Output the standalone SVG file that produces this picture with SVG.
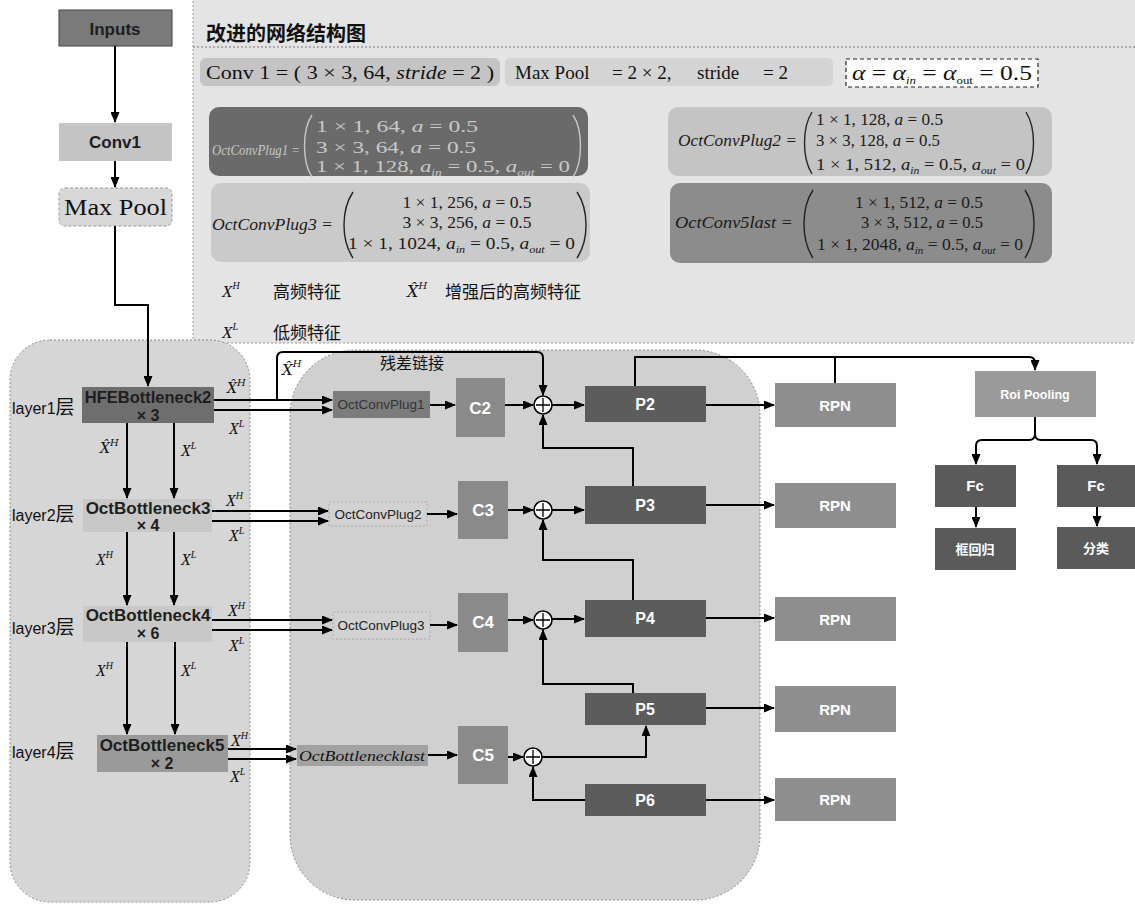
<svg xmlns="http://www.w3.org/2000/svg" width="1135" height="906" viewBox="0 0 1135 906">
<defs>
<marker id="ah" markerWidth="11" markerHeight="9" refX="10" refY="4.5" orient="auto" markerUnits="userSpaceOnUse"><path d="M0,0 L11,4.5 L0,9 z" fill="#000"/></marker>
</defs>
<style>
.sans{font-family:"Liberation Sans",Arial,"Noto Sans CJK SC",sans-serif}
.cjk{font-family:"Noto Sans CJK SC","Liberation Sans",sans-serif}
.serif{font-family:"Liberation Serif","DejaVu Serif",serif}
.math{font-family:"Liberation Serif","DejaVu Serif",serif;font-style:italic}
.hat{font-family:"DejaVu Serif",serif;font-style:italic}
.ln{fill:none;stroke:#000;stroke-width:2}
.arr{fill:none;stroke:#000;stroke-width:2;marker-end:url(#ah)}
.wt{fill:#fff;font-weight:bold;text-anchor:middle;font-family:"Liberation Sans",Arial,"Noto Sans CJK SC",sans-serif}
.bk{fill:#1e1e1e;font-weight:bold;text-anchor:middle;font-family:"Liberation Sans",Arial,sans-serif}
.par{fill:none;stroke:#222;stroke-width:1.4}
.parl{fill:none;stroke:#c8c8c8;stroke-width:1.4}
.sup{font-size:10px}
.sub{font-size:10px}
</style>
<rect x="0" y="0" width="1135" height="906" fill="#fff"/>

<!-- Legend panel -->
<g id="legend">
<rect x="193" y="-3" width="945" height="346" fill="#e4e4e4" stroke="#999" stroke-width="1" stroke-dasharray="2,2"/>
<text x="206" y="41" class="cjk" font-size="20" font-weight="bold" fill="#111">改进的网络结构图</text>
<line x1="193" y1="47" x2="1135" y2="47" stroke="#777" stroke-width="1" stroke-dasharray="2,2"/>
<rect x="200" y="58" width="300" height="28" rx="6" fill="#c4c4c4"/>
<text x="206" y="79" class="serif" font-size="19" fill="#111" textLength="288" lengthAdjust="spacingAndGlyphs">Conv 1 = ( 3 × 3, 64, <tspan font-style="italic">stride</tspan> = 2 )</text>
<rect x="505" y="58" width="328" height="28" rx="5" fill="#d4d4d4"/>
<text y="79" class="serif" font-size="19" fill="#111"><tspan x="515">Max Pool</tspan><tspan x="612">= 2 × 2,</tspan><tspan x="697">stride</tspan><tspan x="763">= 2</tspan></text>
<rect x="846" y="59" width="192" height="28" fill="#fff" stroke="#222" stroke-width="1.2" stroke-dasharray="4,3"/>
<text x="852" y="80" class="serif" font-size="20" fill="#111" textLength="180" lengthAdjust="spacingAndGlyphs"><tspan font-style="italic">α</tspan> = <tspan font-style="italic">α</tspan><tspan class="sub" font-style="italic" dy="4">in</tspan><tspan dy="-4"> = </tspan><tspan font-style="italic">α</tspan><tspan class="sub" dy="4">out</tspan><tspan dy="-4"> = 0.5</tspan></text>

<rect x="209" y="107" width="379" height="69" rx="10" fill="#6a6a6a"/>
<text x="212" y="155" class="math" font-size="15" fill="#c8c8c8" textLength="88" lengthAdjust="spacingAndGlyphs">OctConvPlug1 =</text>
<path class="parl" d="M312,115 C302,130 302,162 312,177"/>
<path class="parl" d="M573,115 C583,130 583,162 573,177"/>
<text x="316" y="132" class="serif" font-size="17" fill="#c8c8c8" textLength="162" lengthAdjust="spacingAndGlyphs">1 × 1, 64, <tspan font-style="italic">a</tspan> = 0.5</text>
<text x="316" y="153" class="serif" font-size="17" fill="#c8c8c8" textLength="160" lengthAdjust="spacingAndGlyphs">3 × 3, 64, <tspan font-style="italic">a</tspan> = 0.5</text>
<text x="316" y="172" class="serif" font-size="17" fill="#c8c8c8" textLength="254" lengthAdjust="spacingAndGlyphs">1 × 1, 128, <tspan font-style="italic">a</tspan><tspan class="sub" font-style="italic" dy="4">in</tspan><tspan dy="-4"> = 0.5, </tspan><tspan font-style="italic">a</tspan><tspan class="sub" font-style="italic" dy="4">out</tspan><tspan dy="-4"> = 0</tspan></text>

<rect x="668" y="107" width="384" height="69" rx="10" fill="#c4c4c4"/>
<text x="678" y="146" class="math" font-size="16" fill="#1a1a1a" textLength="119" lengthAdjust="spacingAndGlyphs">OctConvPlug2 =</text>
<path class="par" d="M812,112 C802,128 802,158 812,174"/>
<path class="par" d="M1026,112 C1036,128 1036,158 1026,174"/>
<text x="816" y="125" class="serif" font-size="16" fill="#1a1a1a" textLength="127" lengthAdjust="spacingAndGlyphs">1 × 1, 128, <tspan font-style="italic">a</tspan> = 0.5</text>
<text x="816" y="146" class="serif" font-size="16" fill="#1a1a1a" textLength="124" lengthAdjust="spacingAndGlyphs">3 × 3, 128, <tspan font-style="italic">a</tspan> = 0.5</text>
<text x="816" y="170" class="serif" font-size="16" fill="#1a1a1a" textLength="209" lengthAdjust="spacingAndGlyphs">1 × 1, 512, <tspan font-style="italic">a</tspan><tspan class="sub" font-style="italic" dy="4">in</tspan><tspan dy="-4"> = 0.5, </tspan><tspan font-style="italic">a</tspan><tspan class="sub" font-style="italic" dy="4">out</tspan><tspan dy="-4"> = 0</tspan></text>

<rect x="211" y="183" width="379" height="79" rx="10" fill="#cacaca"/>
<text x="212" y="230" class="math" font-size="16" fill="#1a1a1a" textLength="121" lengthAdjust="spacingAndGlyphs">OctConvPlug3 =</text>
<path class="par" d="M353,192 C341,210 341,240 353,258"/>
<path class="par" d="M577,192 C589,210 589,240 577,258"/>
<text x="467" y="208" class="serif" font-size="16" fill="#1a1a1a" text-anchor="middle" textLength="129" lengthAdjust="spacingAndGlyphs">1 × 1, 256, <tspan font-style="italic">a</tspan> = 0.5</text>
<text x="467" y="228" class="serif" font-size="16" fill="#1a1a1a" text-anchor="middle" textLength="129" lengthAdjust="spacingAndGlyphs">3 × 3, 256, <tspan font-style="italic">a</tspan> = 0.5</text>
<text x="348" y="249" class="serif" font-size="16" fill="#1a1a1a" textLength="227" lengthAdjust="spacingAndGlyphs">1 × 1, 1024, <tspan font-style="italic">a</tspan><tspan class="sub" font-style="italic" dy="4">in</tspan><tspan dy="-4"> = 0.5, </tspan><tspan font-style="italic">a</tspan><tspan class="sub" font-style="italic" dy="4">out</tspan><tspan dy="-4"> = 0</tspan></text>

<rect x="670" y="183" width="382" height="80" rx="10" fill="#8c8c8c"/>
<text x="675" y="228" class="math" font-size="16" fill="#1a1a1a" textLength="118" lengthAdjust="spacingAndGlyphs">OctConv5last =</text>
<path class="par" d="M813,190 C801,208 801,240 813,258"/>
<path class="par" d="M1025,190 C1037,208 1037,240 1025,258"/>
<text x="919" y="208" class="serif" font-size="16" fill="#1a1a1a" text-anchor="middle" textLength="128" lengthAdjust="spacingAndGlyphs">1 × 1, 512, <tspan font-style="italic">a</tspan> = 0.5</text>
<text x="922" y="228" class="serif" font-size="16" fill="#1a1a1a" text-anchor="middle" textLength="122" lengthAdjust="spacingAndGlyphs">3 × 3, 512, <tspan font-style="italic">a</tspan> = 0.5</text>
<text x="817" y="250" class="serif" font-size="16" fill="#1a1a1a" textLength="206" lengthAdjust="spacingAndGlyphs">1 × 1, 2048, <tspan font-style="italic">a</tspan><tspan class="sub" font-style="italic" dy="4">in</tspan><tspan dy="-4"> = 0.5, </tspan><tspan font-style="italic">a</tspan><tspan class="sub" font-style="italic" dy="4">out</tspan><tspan dy="-4"> = 0</tspan></text>

<text x="222" y="297" class="math" font-size="17" fill="#111">X<tspan class="sup" dy="-8">H</tspan></text>
<text x="273" y="298" class="cjk" font-size="17" fill="#111">高频特征</text>
<text x="407" y="297" class="hat" font-size="16" fill="#111">X̂<tspan class="sup" dy="-8">H</tspan></text>
<text x="445" y="298" class="cjk" font-size="17" fill="#111">增强后的高频特征</text>
<text x="222" y="338" class="math" font-size="17" fill="#111">X<tspan class="sup" dy="-8">L</tspan></text>
<text x="273" y="339" class="cjk" font-size="17" fill="#111">低频特征</text>
</g>

<!-- Panels -->
<g id="layers-panel">
<rect x="10" y="340" width="240" height="562" rx="40" fill="#d6d6d6" stroke="#888" stroke-width="1" stroke-dasharray="2,2"/>
<text x="12" y="414" class="sans" font-size="16" fill="#111">layer1<tspan font-size="19">层</tspan></text>
<text x="12" y="521" class="sans" font-size="16" fill="#111">layer2<tspan font-size="19">层</tspan></text>
<text x="12" y="634" class="sans" font-size="16" fill="#111">layer3<tspan font-size="19">层</tspan></text>
<text x="12" y="758" class="sans" font-size="16" fill="#111">layer4<tspan font-size="19">层</tspan></text>
</g>
<g id="fpn-panel">
<rect x="290" y="350" width="470" height="550" rx="65" fill="#d0d0d0" stroke="#888" stroke-width="1" stroke-dasharray="2,2"/>
<text x="380" y="369" class="cjk" font-size="16" fill="#111">残差链接</text>
<text x="282" y="375" class="hat" font-size="15" fill="#111">X̂<tspan class="sup" dy="-8">H</tspan></text>
</g>

<!-- Stem nodes -->
<g id="inputs"><rect x="59" y="10" width="113" height="36" fill="#7a7a7a" stroke="#444" stroke-width="1"/><text x="115" y="35" class="bk" font-size="17">Inputs</text></g>
<g id="conv1"><rect x="59" y="123" width="113" height="38" fill="#c4c4c4"/><text x="115" y="148" class="bk" font-size="17">Conv1</text></g>
<g id="maxpool"><rect x="59" y="188" width="113" height="38" rx="6" fill="#d8d8d8" stroke="#999" stroke-width="1" stroke-dasharray="3,2"/><text x="64" y="215" class="serif" font-size="23" fill="#111" textLength="103" lengthAdjust="spacingAndGlyphs">Max Pool</text></g>

<!-- Backbone -->
<g id="hfe2"><rect x="82" y="387" width="132" height="36" fill="#6e6e6e"/><text x="148" y="403" class="bk" font-size="16.5">HFEBottleneck2</text><text x="148" y="421" class="bk" font-size="16">× 3</text></g>
<g id="oct3"><rect x="83" y="499" width="129" height="33" fill="#c8c8c8"/><text x="148" y="514" class="bk" font-size="17">OctBottleneck3</text><text x="148" y="531" class="bk" font-size="16">× 4</text></g>
<g id="oct4"><rect x="83" y="606" width="129" height="36" fill="#c8c8c8"/><text x="148" y="621" class="bk" font-size="17">OctBottleneck4</text><text x="148" y="639" class="bk" font-size="16">× 6</text></g>
<g id="oct5"><rect x="97" y="735" width="131" height="37" fill="#9a9a9a"/><text x="162" y="751" class="bk" font-size="17">OctBottleneck5</text><text x="162" y="769" class="bk" font-size="16">× 2</text></g>

<!-- Plug nodes -->
<g id="plug1"><rect x="333" y="391" width="97" height="27" fill="#7c7c7c"/><text x="381" y="409" class="sans" font-size="13.5" fill="#333" text-anchor="middle">OctConvPlug1</text></g>
<g id="plug2"><rect x="329" y="502" width="98" height="24" fill="#d2d2d2" stroke="#aaa" stroke-width="1" stroke-dasharray="2,2"/><text x="378" y="519" class="sans" font-size="13.5" fill="#222" text-anchor="middle">OctConvPlug2</text></g>
<g id="plug3"><rect x="333" y="612" width="97" height="27" fill="#d2d2d2" stroke="#aaa" stroke-width="1" stroke-dasharray="2,2"/><text x="381" y="630" class="sans" font-size="13.5" fill="#222" text-anchor="middle">OctConvPlug3</text></g>
<g id="octlast"><rect x="297" y="745" width="131" height="21" fill="#a2a2a2"/><text x="362" y="761" class="math" font-size="15" fill="#111" text-anchor="middle" textLength="126" lengthAdjust="spacingAndGlyphs">OctBottlenecklast</text></g>

<!-- C nodes -->
<g id="c2"><rect x="456" y="378" width="49" height="59" fill="#8a8a8a"/><text x="480" y="414" class="wt" font-size="17">C2</text></g>
<g id="c3"><rect x="458" y="481" width="50" height="58" fill="#8a8a8a"/><text x="483" y="516" class="wt" font-size="17">C3</text></g>
<g id="c4"><rect x="458" y="593" width="50" height="59" fill="#8a8a8a"/><text x="483" y="628" class="wt" font-size="17">C4</text></g>
<g id="c5"><rect x="458" y="726" width="50" height="58" fill="#8a8a8a"/><text x="483" y="761" class="wt" font-size="17">C5</text></g>

<!-- Sum nodes -->
<g id="sum2"><circle cx="543" cy="405" r="9" fill="#fff" stroke="#000" stroke-width="1.6"/><path d="M543,398 V412 M536,405 H550" stroke="#000" stroke-width="1.3"/></g>
<g id="sum3"><circle cx="543" cy="510" r="9" fill="#fff" stroke="#000" stroke-width="1.6"/><path d="M543,503 V517 M536,510 H550" stroke="#000" stroke-width="1.3"/></g>
<g id="sum4"><circle cx="543" cy="620" r="9" fill="#fff" stroke="#000" stroke-width="1.6"/><path d="M543,613 V627 M536,620 H550" stroke="#000" stroke-width="1.3"/></g>
<g id="sum5"><circle cx="533" cy="757" r="9" fill="#fff" stroke="#000" stroke-width="1.6"/><path d="M533,750 V764 M526,757 H540" stroke="#000" stroke-width="1.3"/></g>

<!-- P nodes -->
<g id="p2"><rect x="585" y="386" width="121" height="36" fill="#5c5c5c"/><text x="645" y="410" class="wt" font-size="16">P2</text></g>
<g id="p3"><rect x="585" y="486" width="121" height="38" fill="#5c5c5c"/><text x="645" y="511" class="wt" font-size="16">P3</text></g>
<g id="p4"><rect x="585" y="600" width="121" height="37" fill="#5c5c5c"/><text x="645" y="624" class="wt" font-size="16">P4</text></g>
<g id="p5"><rect x="585" y="693" width="121" height="32" fill="#5c5c5c"/><text x="645" y="715" class="wt" font-size="16">P5</text></g>
<g id="p6"><rect x="585" y="784" width="121" height="32" fill="#5c5c5c"/><text x="645" y="806" class="wt" font-size="16">P6</text></g>

<!-- RPN nodes -->
<g id="rpn1"><rect x="775" y="383" width="121" height="44" fill="#8e8e8e"/><text x="835" y="411" class="wt" font-size="15">RPN</text></g>
<g id="rpn2"><rect x="775" y="483" width="121" height="45" fill="#8e8e8e"/><text x="835" y="511" class="wt" font-size="15">RPN</text></g>
<g id="rpn3"><rect x="775" y="597" width="121" height="44" fill="#8e8e8e"/><text x="835" y="625" class="wt" font-size="15">RPN</text></g>
<g id="rpn4"><rect x="775" y="686" width="121" height="46" fill="#8e8e8e"/><text x="835" y="715" class="wt" font-size="15">RPN</text></g>
<g id="rpn5"><rect x="775" y="778" width="121" height="43" fill="#8e8e8e"/><text x="835" y="805" class="wt" font-size="15">RPN</text></g>

<!-- Head nodes -->
<g id="roi"><rect x="975" y="371" width="121" height="46" fill="#9a9a9a"/><text x="1035" y="399" class="wt" font-size="12.5">Roi Pooling</text></g>
<g id="fc1"><rect x="935" y="465" width="81" height="42" fill="#5a5a5a"/><text x="975" y="491" class="wt" font-size="15">Fc</text></g>
<g id="fc2"><rect x="1057" y="465" width="78" height="42" fill="#5a5a5a"/><text x="1096" y="491" class="wt" font-size="15">Fc</text></g>
<g id="bbox"><rect x="935" y="528" width="81" height="42" fill="#5a5a5a"/><text x="975" y="554" class="wt" font-size="13">框回归</text></g>
<g id="cls"><rect x="1057" y="527" width="78" height="42" fill="#5a5a5a"/><text x="1096" y="553" class="wt" font-size="13">分类</text></g>

<!-- Connectors -->
<g id="connectors">
<path class="arr" d="M115,46 V122"/>
<path class="arr" d="M115,161 V187"/>
<path class="arr" d="M115,226 V305 H148 V386"/>

<path class="arr" d="M127,423 V498"/>
<path class="arr" d="M174,423 V498"/>
<path class="arr" d="M127,532 V605"/>
<path class="arr" d="M174,532 V605"/>
<path class="arr" d="M127,642 V734"/>
<path class="arr" d="M175,642 V734"/>

<path class="arr" d="M214,400 H332"/>
<path class="arr" d="M214,410 H332"/>
<path class="arr" d="M277,400 V358 Q277,352 283,352 H537 Q543,352 543,358 V395"/>
<path class="arr" d="M212,511 H328"/>
<path class="arr" d="M212,521 H328"/>
<path class="arr" d="M212,620 H332"/>
<path class="arr" d="M212,630 H332"/>
<path class="arr" d="M228,749 H296"/>
<path class="arr" d="M228,759 H296"/>

<path class="arr" d="M430,405 H455"/>
<path class="arr" d="M427,514 H457"/>
<path class="arr" d="M430,625 H457"/>
<path class="arr" d="M428,755 H457"/>

<path class="arr" d="M505,405 H533"/>
<path class="arr" d="M508,510 H533"/>
<path class="arr" d="M508,620 H533"/>
<path class="arr" d="M508,757 H523"/>

<path class="arr" d="M552,405 H584"/>
<path class="arr" d="M552,510 H584"/>
<path class="arr" d="M552,619 H584"/>

<path class="arr" d="M633,486 V448 H543 V415"/>
<path class="arr" d="M633,600 V560 H543 V520"/>
<path class="arr" d="M633,693 V684 H543 V630"/>
<path class="arr" d="M542,757 H646 V726"/>
<path class="arr" d="M585,800 H533 V767"/>

<path class="arr" d="M706,405 H774"/>
<path class="arr" d="M706,505 H774"/>
<path class="arr" d="M706,618 H774"/>
<path class="arr" d="M706,708 H774"/>
<path class="arr" d="M706,800 H774"/>

<path class="arr" d="M635,386 V357 H1029 Q1035,357 1035,363 V370"/>
<path class="ln" d="M835,357 V383"/>
<path class="ln" d="M1035,417 V434 Q1035,440 1029,440 H982 Q976,440 976,446 V464"/>
<path class="arr" d="M1035,434 Q1035,440 1041,440 H1091 Q1097,440 1097,446 V464"/>
<path class="arr" d="M976,446 V464"/>
<path class="arr" d="M976,507 V527"/>
<path class="arr" d="M1097,507 V526"/>
</g>

<!-- Edge labels -->
<g id="edge-labels">
<text x="227" y="393" class="hat" font-size="14" fill="#111">X̂<tspan class="sup" dy="-7">H</tspan></text>
<text x="229" y="434" class="math" font-size="16" fill="#111">X<tspan class="sup" dy="-7">L</tspan></text>
<text x="226" y="506" class="math" font-size="16" fill="#111">X<tspan class="sup" dy="-7">H</tspan></text>
<text x="229" y="541" class="math" font-size="16" fill="#111">X<tspan class="sup" dy="-7">L</tspan></text>
<text x="228" y="616" class="math" font-size="16" fill="#111">X<tspan class="sup" dy="-7">H</tspan></text>
<text x="229" y="651" class="math" font-size="16" fill="#111">X<tspan class="sup" dy="-7">L</tspan></text>
<text x="231" y="746" class="math" font-size="16" fill="#111">X<tspan class="sup" dy="-7">H</tspan></text>
<text x="230" y="782" class="math" font-size="16" fill="#111">X<tspan class="sup" dy="-7">L</tspan></text>

<text x="100" y="453" class="hat" font-size="14" fill="#111">X̂<tspan class="sup" dy="-7">H</tspan></text>
<text x="181" y="456" class="math" font-size="16" fill="#111">X<tspan class="sup" dy="-7">L</tspan></text>
<text x="96" y="565" class="math" font-size="16" fill="#111">X<tspan class="sup" dy="-7">H</tspan></text>
<text x="181" y="565" class="math" font-size="16" fill="#111">X<tspan class="sup" dy="-7">L</tspan></text>
<text x="96" y="676" class="math" font-size="16" fill="#111">X<tspan class="sup" dy="-7">H</tspan></text>
<text x="181" y="676" class="math" font-size="16" fill="#111">X<tspan class="sup" dy="-7">L</tspan></text>
</g>
</svg>
